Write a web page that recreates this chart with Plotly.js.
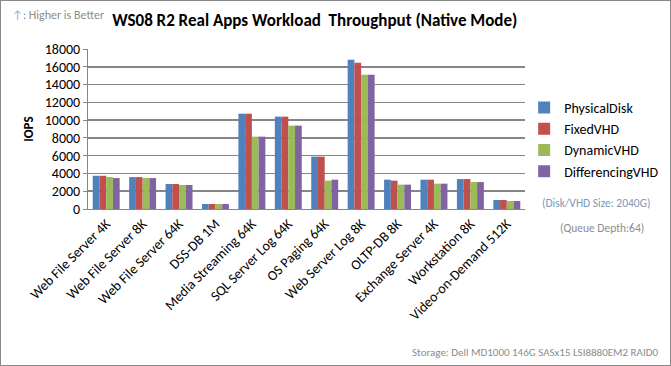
<!DOCTYPE html>
<html><head><meta charset="utf-8">
<script src="https://cdn.plot.ly/plotly-3.0.1.min.js"></script>
<style>html,body{margin:0;padding:0;background:#fff}#c{width:671px;height:366px;box-sizing:border-box;border:1px solid #888;}</style>
</head><body><div id="c"></div>
<script>
const categories = ["Web File Server 4K","Web File Server 8K","Web File Server 64K","DSS-DB 1M","Media Streaming 64K","SQL Server Log 64K","OS Paging 64K","Web Server Log 8K","OLTP-DB 8K","Exchange Server 4K","Workstation 8K","Video-on-Demand 512K"];
const physicalDisk    = [3740,3590,2810,560,10720,10390,5890,16800,3300,3300,3370,1010];
const fixedVHD        = [3740,3590,2810,560,10720,10390,5890,16460,3190,3300,3370,1010];
const dynamicVHD      = [3600,3480,2700,560,8140,9380,3190,15110,2740,2850,3030,900];
const differencingVHD = [3480,3480,2700,560,8140,9380,3300,15110,2740,2850,3030,900];
const seriesNames = ["PhysicalDisk","FixedVHD","DynamicVHD","DifferencingVHD"];
const seriesColors = ["#4F81BD","#C0504D","#9BBB59","#8064A2"];
const yTicks = [0,2000,4000,6000,8000,10000,12000,14000,16000,18000];

const font = "Calibri, Carlito, 'Open Sans', 'Noto Sans', sans-serif";
const data = [physicalDisk,fixedVHD,dynamicVHD,differencingVHD].map((v,i)=>({
  type:'bar', x:categories, y:v, name:seriesNames[i], marker:{color:seriesColors[i]}
}));
const layout = {
  width:669, height:364,
  margin:{l:87,r:145,t:48,b:156, autoexpand:false},
  paper_bgcolor:'#fff', plot_bgcolor:'#fff',
  font:{family:font,size:12,color:'#000'},
  barmode:'group', bargap:0.26, bargroupgap:0,
  title:{text:'<b>WS08 R2 Real Apps Workload  Throughput (Native Mode)</b>', xref:'container', yref:'container', x:0.469, xanchor:'center', y:0.948, yanchor:'middle', font:{size:17,color:'#000',family:font}},
  xaxis:{tickangle:-45, showgrid:false, showline:true, linecolor:'#868686', linewidth:1, ticks:'', tickfont:{size:14,family:font,color:'#000'}},
  yaxis:{range:[0,18000], tickvals:yTicks, ticktext:yTicks.map(String), showgrid:true, gridcolor:'#868686', gridwidth:1.5, zeroline:true, zerolinecolor:'#868686', showline:true, linecolor:'#868686', ticks:'outside', ticklen:4, tickcolor:'#868686', tickfont:{size:14,family:font,color:'#000'},
    title:{text:'<b>IOPS</b>', font:{size:13,family:font,color:'#000'}, standoff:8}},
  legend:{xref:'container', yref:'container', x:0.782, y:0.75, xanchor:'left', yanchor:'top', font:{size:14,family:font,color:'#000'}, tracegroupgap:0, itemwidth:30, bgcolor:'rgba(0,0,0,0)'},
  annotations:[
    {text:'<span style="color:#8DB3E2">↑</span>: Higher is Better', xref:'paper', yref:'paper', x:-0.1785, y:1.2125, xanchor:'left', yanchor:'middle', showarrow:false, font:{size:12,family:font,color:'#8C8C8C'}},
    {text:'(Disk/VHD Size: 2040G)', xref:'paper', yref:'paper', x:1.1625, y:0.0375, xanchor:'center', yanchor:'middle', showarrow:false, font:{size:11.5,family:font,color:'#7F98B5'}},
    {text:'(Queue Depth:64)', xref:'paper', yref:'paper', x:1.176, y:-0.119, xanchor:'center', yanchor:'middle', showarrow:false, font:{size:11.5,family:font,color:'#8C8C8C'}},
    {text:'Storage: Dell MD1000 146G SASx15 LSI8880EM2 RAID0', xref:'paper', yref:'paper', x:1.309, y:-0.894, xanchor:'right', yanchor:'middle', showarrow:false, font:{size:11,family:font,color:'#8C8C8C'}}
  ]
};
Plotly.newPlot('c', data, layout, {displayModeBar:false, staticPlot:true});
</script></body></html>
